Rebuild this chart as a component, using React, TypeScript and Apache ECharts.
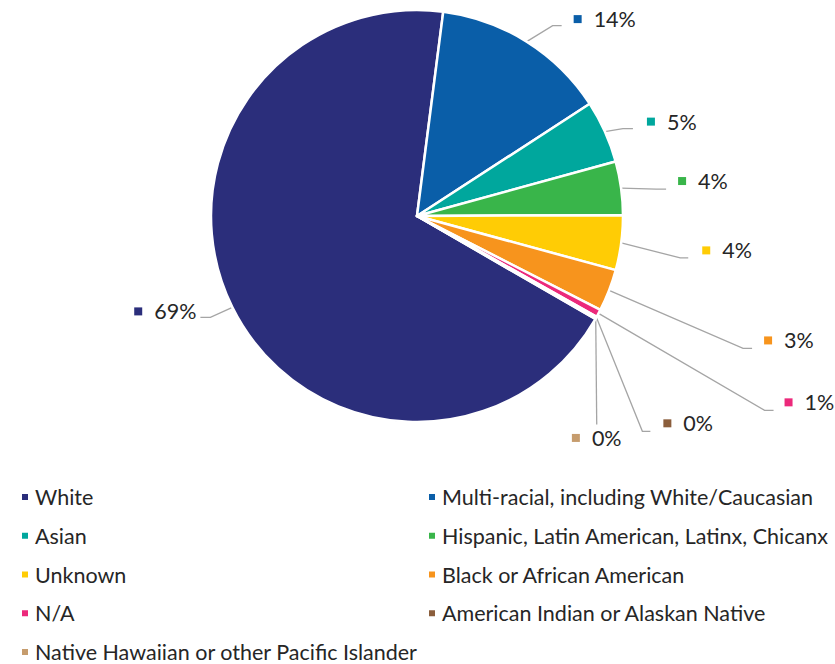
import React, { useEffect, useRef } from "react";
import * as echarts from "echarts";

const categories = [
  "White",
  "Multi-racial, including White/Caucasian",
  "Asian",
  "Hispanic, Latin American, Latinx, Chicanx",
  "Unknown",
  "Black or African American",
  "N/A",
  "American Indian or Alaskan Native",
  "Native Hawaiian or other Pacific Islander",
];
const values = [68.7, 13.8, 4.9, 4.2, 4.3, 3.3, 0.6, 0.1, 0.1];
const colors = [
  "#2B2E7B",
  "#0A5EA8",
  "#00A79D",
  "#39B54A",
  "#FFCC05",
  "#F7941D",
  "#EC297B",
  "#8B5E3C",
  "#C69C6D",
];
const leftLegend = [categories[0], categories[2], categories[4], categories[6], categories[8]];
const rightLegend = [categories[1], categories[3], categories[5], categories[7]];

// leader line layout: bend offset from slice edge, horizontal tail, gap to label, label vertical shift
const leaders = [
  { bx: -22, by: 10, tail: -10, gap: 4, dy: -6, align: "right" },
  { bx: 26, by: -16, tail: 9, gap: 12, dy: -6.5, align: "left" },
  { bx: 18, by: -3, tail: 10, gap: 14, dy: -7, align: "left" },
  { bx: 35, by: 1, tail: 10, gap: 12, dy: -8, align: "left" },
  { bx: 59, by: 15, tail: 8, gap: 14, dy: -7.5, align: "left" },
  { bx: 134, by: 58, tail: 9, gap: 12, dy: -8, align: "left" },
  { bx: 166, by: 97, tail: 9, gap: 11, dy: -8, align: "left" },
  { bx: 46, by: 114, tail: 8, gap: 13, dy: -8, align: "left" },
  { bx: 1, by: 106, tail: 0, gap: 0, dy: 13.5, align: "center" },
];

export default function App() {
  const ref = useRef<HTMLDivElement>(null);
  useEffect(() => {
    if (!ref.current) return;
    const chart = echarts.init(ref.current, undefined, { renderer: "svg" });
    const rich: any = {};
    colors.forEach((c, i) => {
      rich["m" + i] = { width: 8, height: 8, backgroundColor: c, verticalAlign: "middle" };
    });
    rich.t = {
      fontFamily: "Lato",
      fontSize: 21.5,
      color: "#262626",
      padding: [0, 0, 0, 12],
      verticalAlign: "middle",
    };
    const legendCommon = {
      orient: "vertical",
      icon: "rect",
      itemWidth: 8,
      itemHeight: 8,
      itemGap: 16.75,
      padding: 0,
      height: 195,
      textStyle: {
        fontFamily: "Lato",
        fontSize: 21.5,
        color: "#262626",
        lineHeight: 22,
        padding: [0, 0, 0, 1],
      },
      selectedMode: false,
    };
    chart.setOption({
      animation: false,
      color: colors,
      legend: [
        { ...legendCommon, left: 20, top: 486, data: leftLegend },
        { ...legendCommon, left: 427, top: 486, data: rightLegend },
      ],
      series: [
        {
          type: "pie",
          center: [417, 216],
          radius: 206,
          startAngle: -30,
          clockwise: true,
          avoidLabelOverlap: false,
          itemStyle: { borderColor: "#ffffff", borderWidth: 2.5 },
          label: {
            show: true,
            position: "outside",
            formatter: (p: any) => `{m${p.dataIndex}|}{t|${Math.round(p.percent)}%}`,
            rich,
          },
          labelLine: {
            show: true,
            length: 20,
            length2: 10,
            lineStyle: { color: "#A5A5A5", width: 1.3 },
          },
          labelLayout: (p: any) => {
            const pts = p.labelLinePoints;
            const cfg = leaders[p.dataIndex];
            if (!pts || !cfg) return {};
            const x0 = pts[0][0];
            const y0 = pts[0][1];
            const bx = x0 + cfg.bx;
            const by = y0 + cfg.by;
            const ex = bx + cfg.tail;
            let lx = ex;
            if (cfg.align === "left") lx = ex + cfg.gap;
            else if (cfg.align === "right") lx = ex - cfg.gap;
            const line =
              cfg.tail === 0
                ? [
                    [x0, y0],
                    [bx, by],
                  ]
                : [
                    [x0, y0],
                    [bx, by],
                    [ex, by],
                  ];
            return {
              x: lx,
              y: by + cfg.dy,
              align: cfg.align,
              verticalAlign: "middle",
              labelLinePoints: line,
              hideOverlap: false,
              moveOverlap: null,
            };
          },
          data: categories.map((name, i) => ({ name, value: values[i] })),
        },
      ],
    });
    return () => chart.dispose();
  }, []);
  return (
    <div
      ref={ref}
      style={{ position: "absolute", left: 0, top: 0, width: 835, height: 664 }}
    />
  );
}
